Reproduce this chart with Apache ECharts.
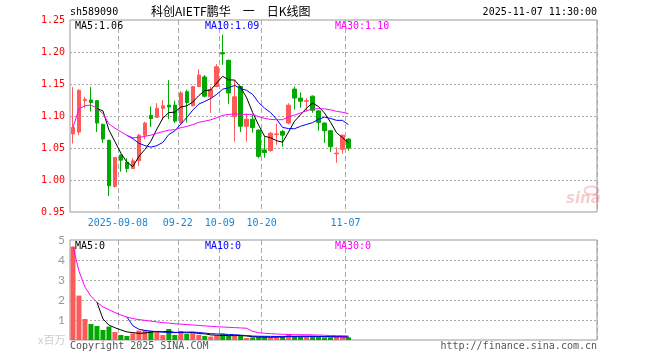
<!DOCTYPE html>
<html><head><meta charset="utf-8">
<script src="https://cdn.jsdelivr.net/npm/echarts@6/dist/echarts.min.js"></script>
<style>html,body{margin:0;padding:0;background:#fff}#c{width:660px;height:360px}</style>
</head><body><div id="c"></div>
<script>
const dates = ['2025-08-27','2025-08-28','2025-08-29','2025-09-01','2025-09-02','2025-09-03','2025-09-04','2025-09-05',
  '2025-09-08','2025-09-09','2025-09-10','2025-09-11','2025-09-12','2025-09-15','2025-09-16','2025-09-17','2025-09-18','2025-09-19',
  '2025-09-22','2025-09-23','2025-09-24','2025-09-25','2025-09-26','2025-09-29','2025-09-30',
  '2025-10-09','2025-10-10','2025-10-13','2025-10-14','2025-10-15','2025-10-16','2025-10-17',
  '2025-10-20','2025-10-21','2025-10-22','2025-10-23','2025-10-24','2025-10-27','2025-10-28','2025-10-29','2025-10-30','2025-10-31',
  '2025-11-03','2025-11-04','2025-11-05','2025-11-06','2025-11-07'];
const opens  = [1.072,1.075,1.124,1.125,1.124,1.087,1.062,0.990,1.039,1.028,1.018,1.030,1.070,1.101,1.098,1.112,1.117,1.117,1.089,1.138,1.116,1.146,1.161,1.130,1.146,1.199,1.187,1.099,1.146,1.084,1.095,1.078,1.047,1.046,1.071,1.076,1.089,1.142,1.128,1.123,1.131,1.108,1.089,1.077,1.041,1.048,1.064];
const closes = [1.082,1.140,1.126,1.121,1.089,1.064,0.991,1.035,1.031,1.018,1.030,1.070,1.089,1.096,1.112,1.116,1.114,1.092,1.136,1.121,1.146,1.164,1.131,1.141,1.177,1.197,1.136,1.130,1.084,1.095,1.082,1.037,1.043,1.073,1.072,1.070,1.117,1.128,1.123,1.124,1.109,1.090,1.077,1.052,1.042,1.070,1.050];
const highs  = [1.145,1.142,1.130,1.145,1.125,1.088,1.063,1.036,1.040,1.034,1.034,1.072,1.091,1.115,1.120,1.125,1.156,1.124,1.139,1.141,1.147,1.173,1.164,1.146,1.181,1.227,1.188,1.156,1.147,1.104,1.102,1.079,1.068,1.075,1.088,1.078,1.120,1.146,1.137,1.128,1.132,1.109,1.090,1.078,1.051,1.071,1.065];
const lows   = [1.057,1.070,1.112,1.107,1.075,1.058,0.975,0.988,1.013,1.012,1.017,1.022,1.064,1.083,1.097,1.094,1.095,1.089,1.088,1.090,1.115,1.145,1.129,1.105,1.145,1.180,1.119,1.060,1.075,1.060,1.074,1.034,1.035,1.044,1.055,1.052,1.087,1.110,1.113,1.107,1.105,1.077,1.058,1.044,1.027,1.041,1.046];
const volumes = [4.67,2.22,1.05,0.80,0.70,0.50,0.67,0.40,0.25,0.20,0.33,0.47,0.50,0.45,0.40,0.25,0.55,0.25,0.45,0.30,0.35,0.25,0.20,0.17,0.23,0.30,0.20,0.20,0.20,0.10,0.13,0.15,0.17,0.13,0.17,0.17,0.28,0.17,0.17,0.17,0.17,0.20,0.13,0.13,0.17,0.17,0.13];
const tickDates  = ['2025-09-08','2025-09-22','2025-10-09','2025-10-20','2025-11-07'];
const tickLabels = ['2025-09-08','09-22','10-09','10-20','11-07'];
const priceLegend = ['MA5:1.06','MA10:1.09','MA30:1.10'];
const volLegend = ['MA5:0','MA10:0','MA30:0'];
const padCount = 41;

const UP = '#ff5a5a', DOWN = '#00a800';
const MONO = '"DejaVu Sans Mono", "Liberation Mono", monospace';

function ma(arr, n, cumulative) {
  return arr.map((_, i) => {
    if (i < n - 1 && !cumulative) return '-';
    const s = Math.max(0, i - n + 1);
    let sum = 0;
    for (let k = s; k <= i; k++) sum += arr[k];
    return +(sum / (i - s + 1)).toFixed(4);
  });
}

const cats = dates.concat(Array.from({length: padCount}, (_, k) => 'pad' + k));
const isTick = (idx, val) => tickDates.indexOf(val) >= 0;
const kData = dates.map((_, i) => [opens[i], closes[i], lows[i], highs[i]]);
const volData = volumes.map((v, i) => ({value: v, itemStyle: {color: closes[i] >= opens[i] ? UP : DOWN}}));

function xAxis(gi, showLabel) {
  return {
    type: 'category', gridIndex: gi, data: cats, boundaryGap: true,
    axisLine: {show: false}, axisTick: {show: false},
    axisLabel: {show: showLabel, interval: isTick, color: '#1a86d6', fontFamily: MONO, fontSize: 10, margin: 6,
      padding: [0, 6, 0, 0],
      formatter: v => { const k = tickDates.indexOf(v); return k >= 0 ? tickLabels[k] : ''; }},
    splitLine: {show: true, interval: isTick, lineStyle: {color: '#aaaaaa', width: 1, type: [5, 3]}}
  };
}

const chart = echarts.init(document.getElementById('c'), null, {renderer: 'canvas'});
chart.setOption({
  animation: false,
  backgroundColor: '#fff',
  grid: [
    {left: 70, top: 20, width: 527, height: 192, show: true, borderColor: '#999', borderWidth: 1, backgroundColor: 'transparent'},
    {left: 70, top: 240, width: 527, height: 100, show: true, borderColor: '#999', borderWidth: 1, backgroundColor: 'transparent'}
  ],
  xAxis: [xAxis(0, true), xAxis(1, false)],
  yAxis: [
    {type: 'value', gridIndex: 0, min: 0.95, max: 1.25, interval: 0.05,
     axisLine: {show: false}, axisTick: {show: false},
     axisLabel: {color: '#ff0000', fontFamily: MONO, fontSize: 10, margin: 5, formatter: v => v.toFixed(2)},
     splitLine: {show: true, showMinLine: false, showMaxLine: false, lineStyle: {color: '#aaaaaa', type: [2, 2]}}},
    {type: 'value', gridIndex: 1, min: 0, max: 5, interval: 1,
     axisLine: {show: false}, axisTick: {show: false},
     axisLabel: {color: '#999', fontFamily: 'Lato, "Open Sans", sans-serif', fontSize: 12, margin: 5,
       formatter: v => v === 0 ? '' : String(v)},
     splitLine: {show: true, showMinLine: false, showMaxLine: false, lineStyle: {color: '#aaaaaa', type: [2, 2]}}}
  ],
  series: [
    {type: 'candlestick', xAxisIndex: 0, yAxisIndex: 0, data: kData, barWidth: 4,
     itemStyle: {color: UP, color0: DOWN, borderColor: UP, borderColor0: DOWN, borderWidth: 1}},
    {type: 'line', xAxisIndex: 0, yAxisIndex: 0, data: ma(closes, 5, false), symbol: 'none', lineStyle: {color: '#000', width: 1}},
    {type: 'line', xAxisIndex: 0, yAxisIndex: 0, data: ma(closes, 10, false), symbol: 'none', lineStyle: {color: '#0000ff', width: 1}},
    {type: 'line', xAxisIndex: 0, yAxisIndex: 0, data: ma(closes, 30, true), symbol: 'none', lineStyle: {color: '#ff00ff', width: 1}},
    {type: 'bar', xAxisIndex: 1, yAxisIndex: 1, data: volData, barWidth: 5},
    {type: 'line', xAxisIndex: 1, yAxisIndex: 1, data: ma(volumes, 5, false), symbol: 'none', lineStyle: {color: '#000', width: 1}},
    {type: 'line', xAxisIndex: 1, yAxisIndex: 1, data: ma(volumes, 10, false), symbol: 'none', lineStyle: {color: '#0000ff', width: 1}},
    {type: 'line', xAxisIndex: 1, yAxisIndex: 1, data: ma(volumes, 30, true), symbol: 'none', lineStyle: {color: '#ff00ff', width: 1}}
  ],
  graphic: [
    {type: 'text', left: 70, top: 7, style: {text: 'sh589090', fill: '#000', font: '10px ' + MONO}},
    {type: 'text', left: 151, top: 5, style: {text: '科创AIETF鹏华　一　日K线图', fill: '#000', font: '12px "Noto Sans CJK SC"'}},
    {type: 'text', right: 63, top: 7, style: {text: '2025-11-07 11:30:00', fill: '#000', font: '10px ' + MONO}},
    {type: 'text', left: 75, top: 21, z: 100, style: {text: priceLegend[0], fill: '#000', font: '10px ' + MONO}},
    {type: 'text', left: 205, top: 21, z: 100, style: {text: priceLegend[1], fill: '#0000ff', font: '10px ' + MONO}},
    {type: 'text', left: 335, top: 21, z: 100, style: {text: priceLegend[2], fill: '#ff00ff', font: '10px ' + MONO}},
    {type: 'text', left: 75, top: 241, z: 100, style: {text: volLegend[0], fill: '#000', font: '10px ' + MONO}},
    {type: 'text', left: 205, top: 241, z: 100, style: {text: volLegend[1], fill: '#0000ff', font: '10px ' + MONO}},
    {type: 'text', left: 335, top: 241, z: 100, style: {text: volLegend[2], fill: '#ff00ff', font: '10px ' + MONO}},
    {type: 'text', left: 38, top: 334, style: {text: 'x百万', fill: '#cccccc', font: '11px "Noto Sans CJK SC"'}},
    {type: 'text', left: 70, top: 341, style: {text: 'Copyright 2025 SINA.COM', fill: '#555', font: '10px ' + MONO}},
    {type: 'text', right: 63, top: 341, style: {text: 'http://finance.sina.com.cn', fill: '#555', font: '10px ' + MONO}},
    {type: 'text', left: 566, top: 192, z: 1, style: {text: 'sina', fill: 'rgba(225,80,80,0.28)', font: 'italic bold 15px "DejaVu Sans"'}},
    {type: 'ellipse', left: 582, top: 184, z: 1, shape: {cx: 0, cy: 0, rx: 7, ry: 4}, style: {fill: 'none', stroke: 'rgba(225,80,80,0.28)', lineWidth: 2}}
  ]
});
</script></body></html>
